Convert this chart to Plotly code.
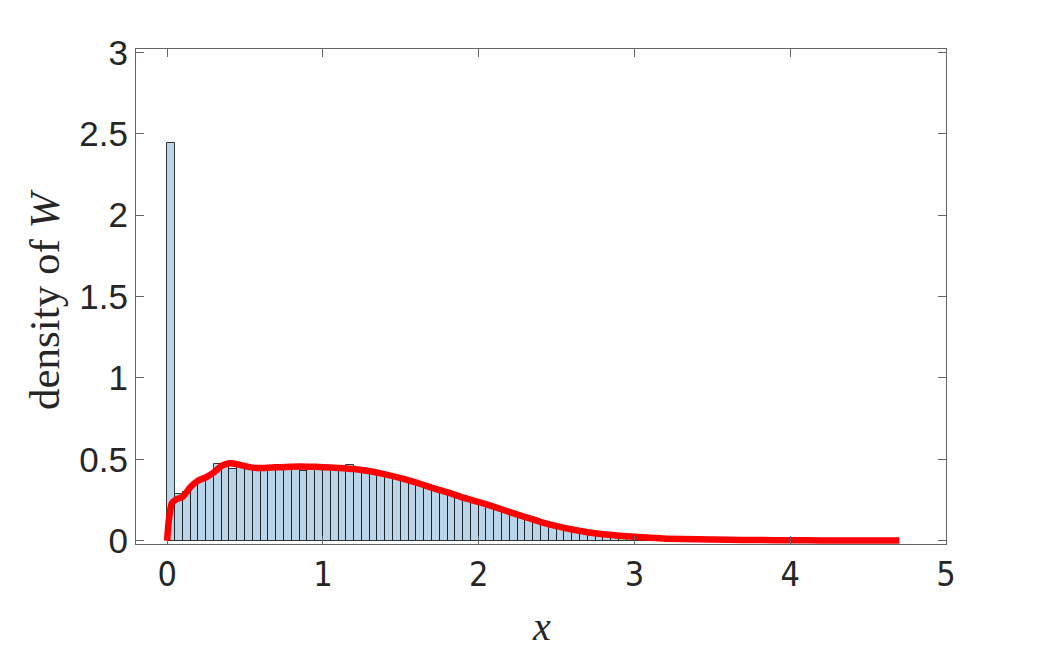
import plotly.graph_objects as go

# histogram of W: bin width 0.05 starting at 0
bin_width = 0.05
bin_heights = [
    2.44, 0.29, 0.30, 0.35, 0.375, 0.40, 0.47, 0.47, 0.44, 0.455,
    0.445, 0.44, 0.44, 0.445, 0.445, 0.445, 0.45, 0.43, 0.445, 0.445,
    0.44, 0.44, 0.435, 0.468, 0.43, 0.425, 0.415, 0.41, 0.40, 0.39,
    0.375, 0.365, 0.35, 0.335, 0.32, 0.305, 0.29, 0.275, 0.26, 0.245,
    0.23, 0.215, 0.20, 0.185, 0.165, 0.15, 0.135, 0.12, 0.105, 0.09,
    0.078, 0.066, 0.056, 0.047, 0.04, 0.033, 0.027, 0.022, 0.018, 0.014,
    0.011, 0.008, 0.006, 0.005, 0.004, 0.003,
]
bin_centers = [bin_width * (i + 0.5) for i in range(len(bin_heights))]

# estimated density curve
density_x = [0, 0.01, 0.03, 0.06, 0.1, 0.15, 0.2, 0.25, 0.3, 0.35, 0.4, 0.45,
             0.5, 0.55, 0.6, 0.7, 0.8, 0.9, 1.0, 1.1, 1.2, 1.3, 1.4, 1.5,
             1.6, 1.7, 1.8, 1.9, 2.0, 2.1, 2.2, 2.3, 2.4, 2.5, 2.6, 2.7,
             2.8, 2.9, 3.0, 3.1, 3.2, 3.4, 3.6, 3.8, 4.0, 4.2, 4.4, 4.7]
density_y = [0.0, 0.12, 0.23, 0.255, 0.27, 0.33, 0.37, 0.39, 0.42, 0.46, 0.476, 0.47,
             0.458, 0.449, 0.446, 0.451, 0.455, 0.455, 0.452, 0.447, 0.44, 0.427, 0.408, 0.385,
             0.357, 0.325, 0.297, 0.265, 0.238, 0.208, 0.176, 0.145, 0.115, 0.09, 0.069, 0.052,
             0.04, 0.031, 0.024, 0.018, 0.013, 0.009, 0.006, 0.004, 0.003, 0.002, 0.002, 0.001]

x_ticks = [0, 1, 2, 3, 4, 5]
y_ticks = [0, 0.5, 1, 1.5, 2, 2.5, 3]
y_ticktext = ["0", "0.5", "1", "1.5", "2", "2.5", "3"]

axis_col = "#262626"
serif = "Liberation Serif, Times New Roman, serif"

fig = go.Figure()
fig.add_trace(go.Bar(
    x=bin_centers, y=bin_heights, width=bin_width,
    marker=dict(color="rgb(186,212,234)", line=dict(color="rgba(20,20,20,0.85)", width=1)),
    showlegend=False,
))
fig.add_trace(go.Scatter(
    x=density_x, y=density_y, mode="lines",
    line=dict(color="#ff0000", width=6.5, shape="spline", smoothing=0.6),
    showlegend=False,
))

axis_common = dict(
    showline=True, linecolor="#666666", linewidth=1, mirror="ticks",
    ticks="inside", ticklen=8, tickcolor="#666666", tickwidth=1,
    showgrid=False, zeroline=False,
)
fig.update_xaxes(range=[-0.2, 5], tickvals=x_ticks,
                 tickfont=dict(family="DejaVu Sans Condensed, Liberation Sans Narrow, sans-serif",
                               size=34, color=axis_col),
                 **axis_common)
fig.update_yaxes(range=[-0.02, 3.02], tickvals=y_ticks, ticktext=y_ticktext,
                 tickfont=dict(family="Liberation Sans, Arial, sans-serif", size=35, color=axis_col),
                 **axis_common)

# page body adds an 8px offset; figure sized so it fits in the window
fig.update_layout(
    width=1038, height=641,
    margin=dict(l=128, r=100, t=41, b=105),
    plot_bgcolor="white", paper_bgcolor="white",
    bargap=0,
    annotations=[
        dict(text="density of <i>W</i>", xref="paper", yref="paper",
             x=-91 / 810, y=0.495, xanchor="center", yanchor="middle",
             textangle=-90, showarrow=False,
             font=dict(family=serif, size=43, color=axis_col)),
        dict(text="<i>x</i>", xref="paper", yref="paper",
             x=0.5, y=-82 / 495, xanchor="center", yanchor="middle",
             showarrow=False,
             font=dict(family=serif, size=40, color=axis_col)),
    ],
)

fig.write_html("out.html")
